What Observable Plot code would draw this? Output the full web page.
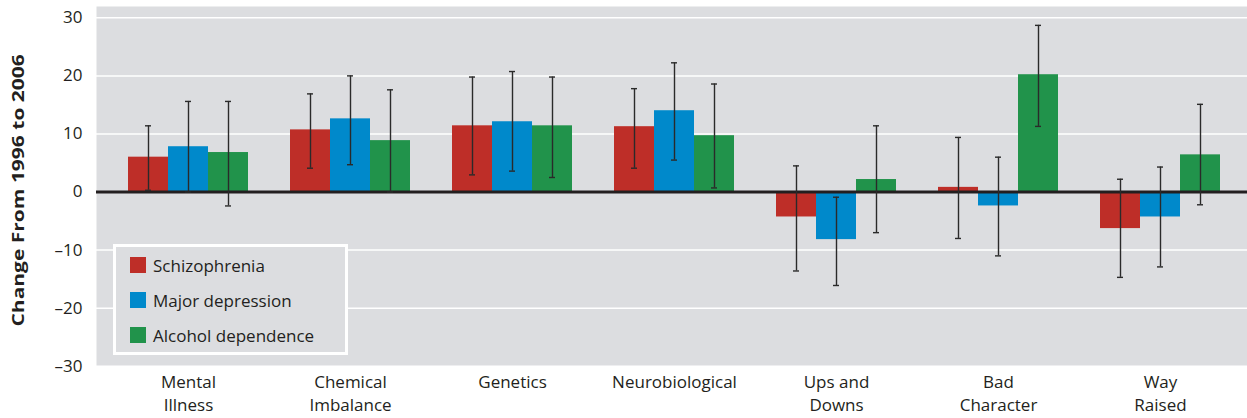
<!DOCTYPE html>
<html><head><meta charset="utf-8">
<script src="https://cdn.jsdelivr.net/npm/d3@7"></script>
<script src="https://cdn.jsdelivr.net/npm/@observablehq/plot@0.6"></script>
<style>
body{margin:0;background:#fff;}
#wrap{position:relative;width:1247px;height:418px;font-family:"Open Sans",sans-serif;color:#231f20;}
.legend{position:absolute;left:113px;top:244px;width:235px;height:111px;border:3px solid #fff;box-sizing:border-box;background:#dcdde0;}
.item{position:absolute;left:14px;height:20px;display:flex;align-items:center;font-size:17px;white-space:nowrap;}
.sw{width:16px;height:16px;margin-right:7px;flex:none;}
</style></head><body><div id="wrap"></div>
<script>
const categories = ["Mental Illness","Chemical Imbalance","Genetics","Neurobiological","Ups and Downs","Bad Character","Way Raised"];
const tickLabels = ["Mental\nIllness","Chemical\nImbalance","Genetics","Neurobiological","Ups and\nDowns","Bad\nCharacter","Way\nRaised"];
const seriesNames = ["Schizophrenia","Major depression","Alcohol dependence"];
const seriesColors = ["#be2e28","#0089cb","#21934b"];
const schizophrenia      = [6.0, 10.7, 11.4, 11.25, -4.3, 0.8, -6.3];
const schizophreniaLow   = [0.3, 4.1, 2.95, 4.1, -13.6, -8.0, -14.7];
const schizophreniaHigh  = [11.4, 16.9, 19.8, 17.8, 4.5, 9.4, 2.2];
const majorDepression     = [7.8, 12.6, 12.1, 14.0, -8.2, -2.4, -4.3];
const majorDepressionLow  = [0.0, 4.7, 3.6, 5.5, -16.1, -11.0, -12.9];
const majorDepressionHigh = [15.6, 20.0, 20.75, 22.25, -0.9, 6.0, 4.3];
const alcoholDependence     = [6.8, 8.85, 11.4, 9.7, 2.15, 20.2, 6.4];
const alcoholDependenceLow  = [-2.4, 0.0, 2.5, 0.7, -7.0, 11.3, -2.2];
const alcoholDependenceHigh = [15.6, 17.6, 19.8, 18.6, 11.4, 28.7, 15.1];
const yTicks = [-30, -20, -10, 0, 10, 20, 30];
const yLabel = "Change From 1996 to 2006";

const values = [schizophrenia, majorDepression, alcoholDependence];
const lows = [schizophreniaLow, majorDepressionLow, alcoholDependenceLow];
const highs = [schizophreniaHigh, majorDepressionHigh, alcoholDependenceHigh];
const barWidth = 40;
const ink = "#231f20";

const marks = [
  Plot.frame({fill: "#dcdde0"}),
  Plot.ruleY(yTicks.filter(d => d !== 0), {stroke: "#fff", strokeWidth: 1.5}),
];
values.forEach((vals, i) => {
  const rows = categories.map((c, j) => ({category: c, value: vals[j], low: lows[i][j], high: highs[i][j]}));
  const dx = (i - 1) * barWidth;
  marks.push(Plot.barY(rows, {x: "category", y: "value", fill: seriesColors[i], dx}));
});
marks.push(Plot.ruleY([0], {stroke: ink, strokeWidth: 3}));
values.forEach((vals, i) => {
  const rows = categories.map((c, j) => ({category: c, value: vals[j], low: lows[i][j], high: highs[i][j]}));
  const dx = (i - 1) * barWidth;
  marks.push(Plot.ruleX(rows, {x: "category", y1: "low", y2: "high", dx, stroke: "#2a2a2a", strokeWidth: 1.4}));
  marks.push(Plot.tickY(rows, {x: "category", y: "low", dx, insetLeft: 17, insetRight: 17, stroke: "#2a2a2a", strokeWidth: 1.4}));
  marks.push(Plot.tickY(rows, {x: "category", y: "high", dx, insetLeft: 17, insetRight: 17, stroke: "#2a2a2a", strokeWidth: 1.4}));
});
marks.push(Plot.axisY({ticks: yTicks, tickSize: 0, tickPadding: 14, fontSize: 17, label: null, fill: ink,
  tickFormat: d => d < 0 ? "\u2013" + Math.abs(d) : String(d)}));
marks.push(Plot.axisX({tickSize: 0, tickPadding: 5, fontSize: 17, label: null, fill: ink, lineHeight: 1.37,
  tickFormat: d => tickLabels[categories.indexOf(d)]}));
marks.push(Plot.text([yLabel], {text: d => d, frameAnchor: "left", textAnchor: "middle", dx: -77, dy: 4, rotate: -90, fontSize: 21, fontWeight: "bold", fill: ink, className: "ylabel"}));

const chart = Plot.plot({
  width: 1247, height: 418,
  marginLeft: 96, marginRight: 0, marginTop: 6, marginBottom: 52.3,
  style: {fontFamily: "'Open Sans', sans-serif", fontSize: "17px", color: ink, background: "#fff"},
  x: {domain: categories, range: [107, 1241], paddingInner: 122/162, paddingOuter: 61/162, align: 0.5, axis: null},
  y: {domain: [-30, 31.95], axis: null},
  marks
});
// the reference's rotated label is drawn slimmer across its lines
chart.querySelectorAll(".ylabel text").forEach(t => {
  const tr = t.getAttribute("transform") || "";
  t.setAttribute("transform", tr + " scale(1,0.72)");
});
const wrap = document.getElementById("wrap");
wrap.appendChild(chart);
const legend = document.createElement("div");
legend.className = "legend";
seriesNames.forEach((name, i) => {
  const it = document.createElement("div");
  it.className = "item";
  it.style.top = (8 + i * 35) + "px";
  const sw = document.createElement("div");
  sw.className = "sw";
  sw.style.background = seriesColors[i];
  it.appendChild(sw);
  it.appendChild(document.createTextNode(name));
  legend.appendChild(it);
});
wrap.appendChild(legend);
</script></body></html>
